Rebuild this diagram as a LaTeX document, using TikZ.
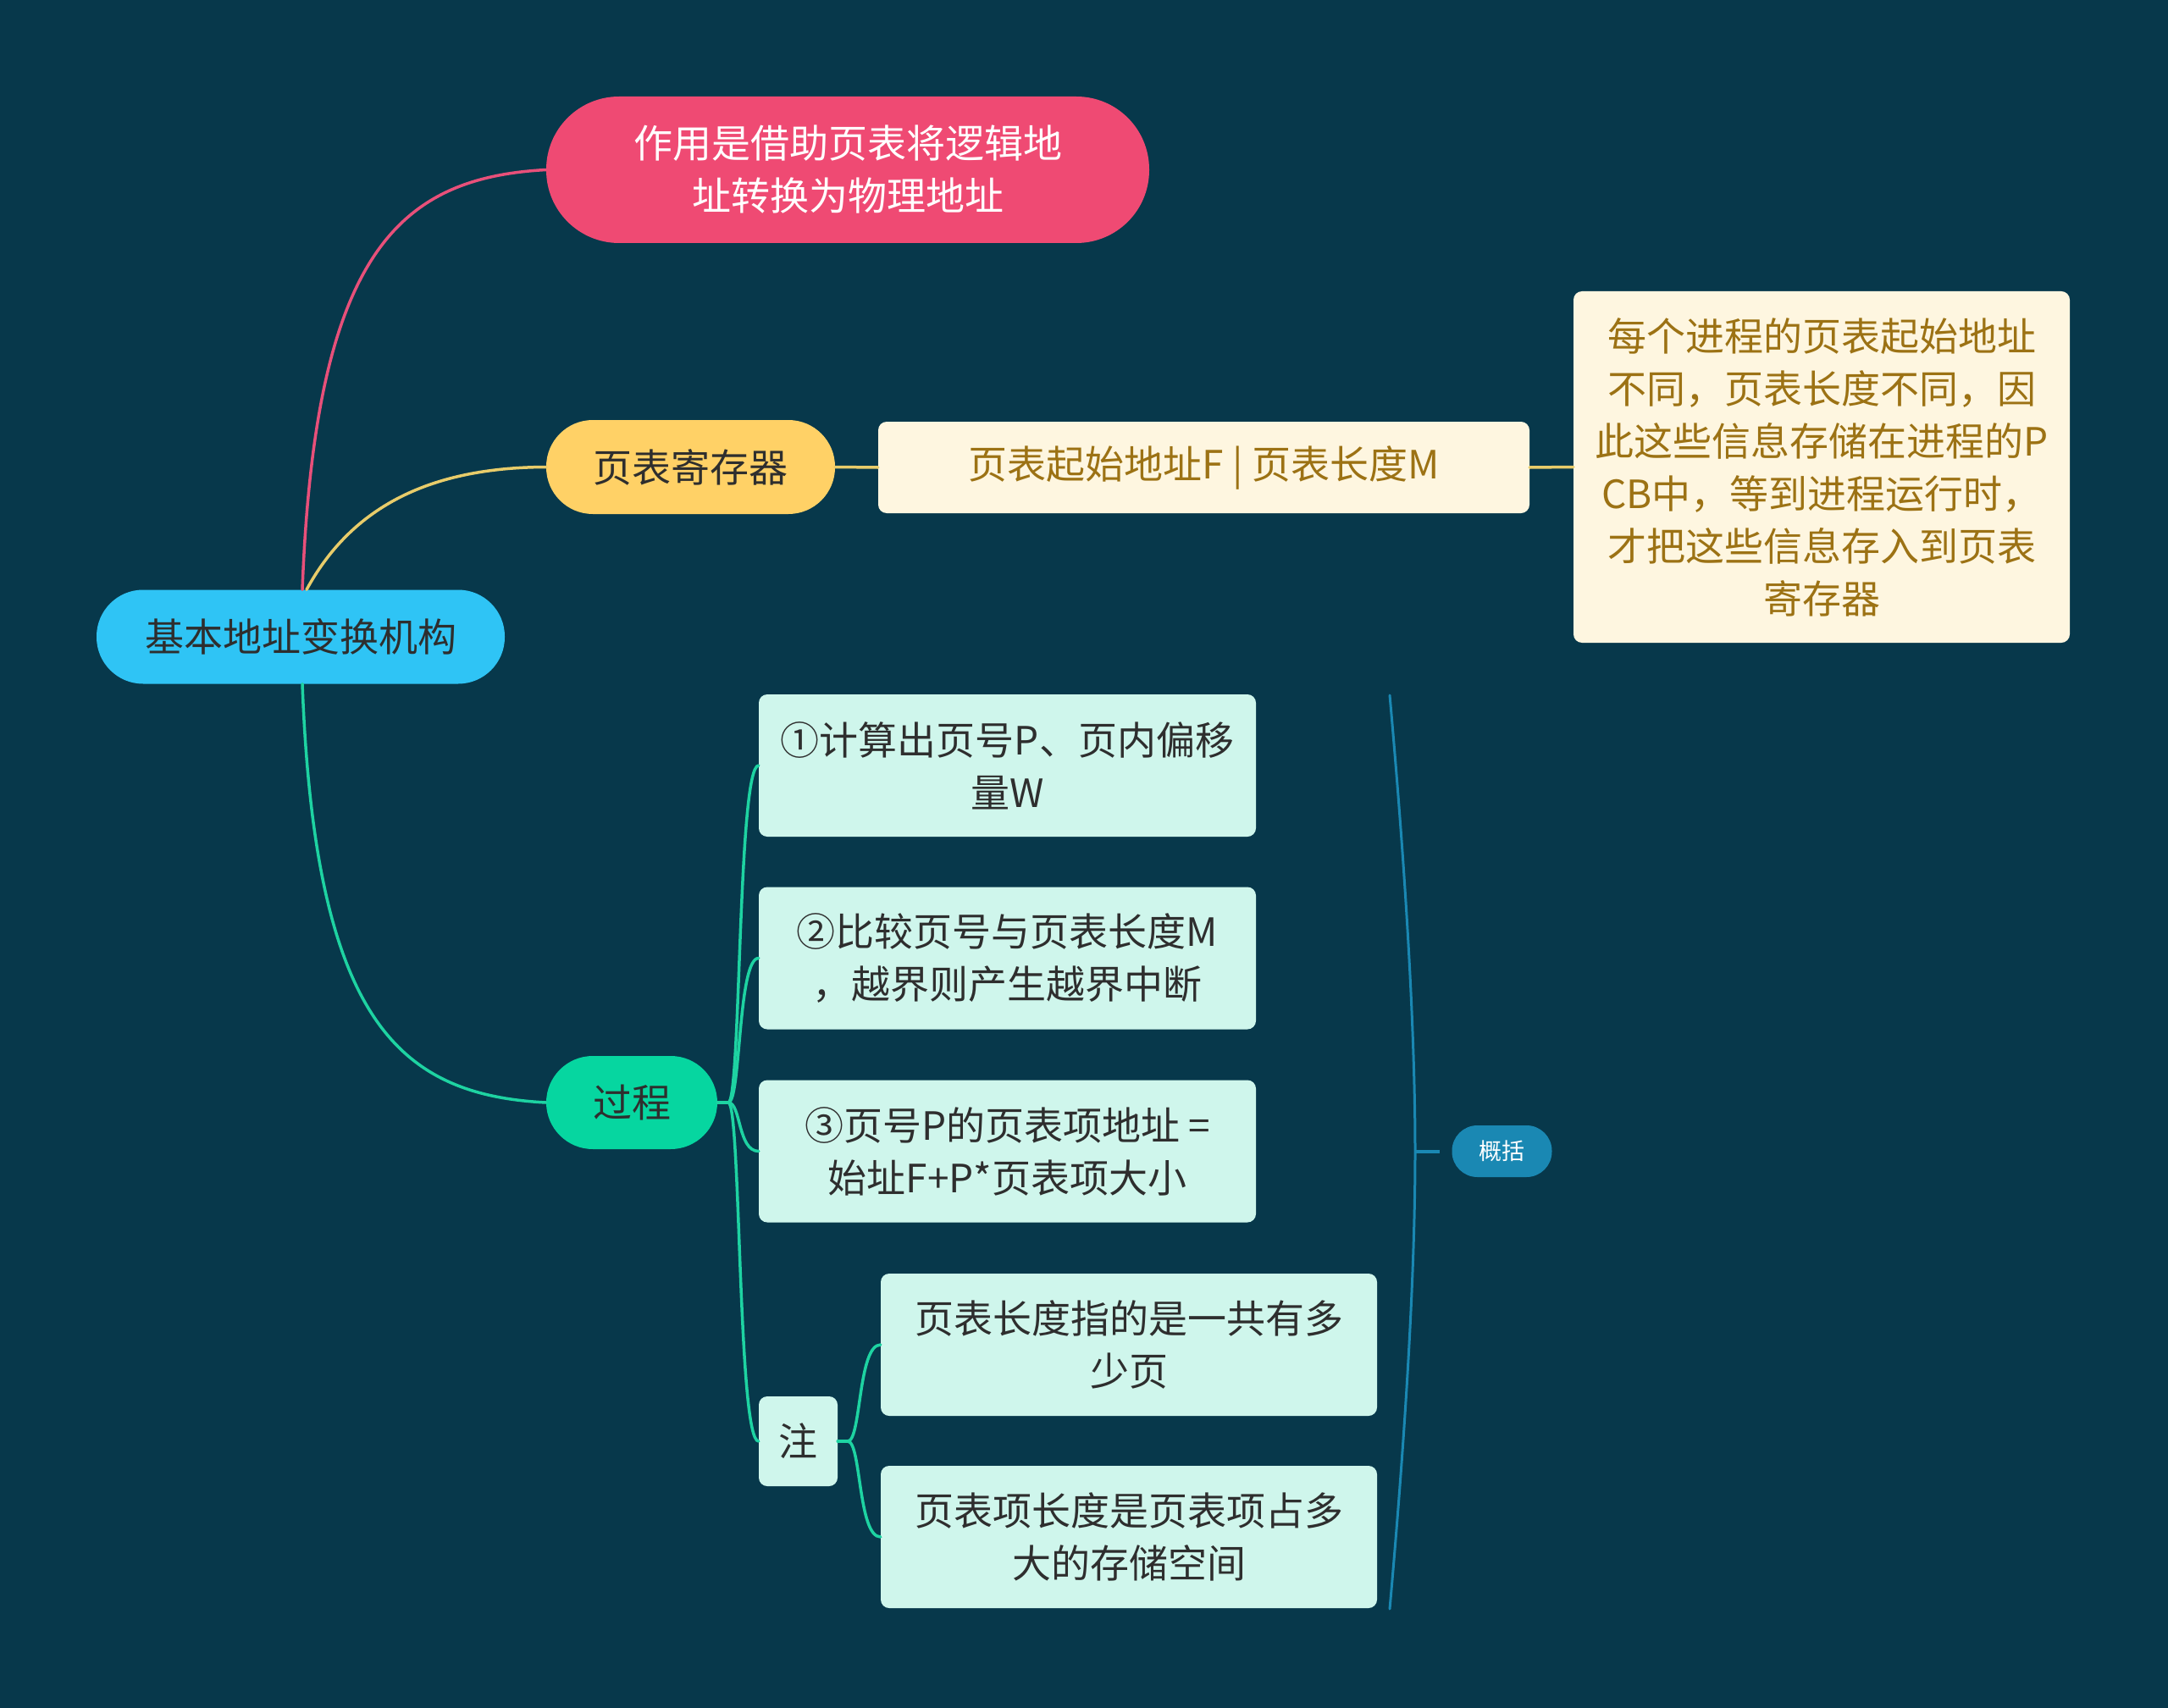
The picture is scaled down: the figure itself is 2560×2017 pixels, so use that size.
\documentclass[tikz,border=0pt]{standalone}
\usepackage{fontspec}
\setmainfont{Noto Sans CJK SC}
\definecolor{bg}{HTML}{07384B}
\definecolor{cRoot}{HTML}{2FC4F5}
\definecolor{cPink}{HTML}{EF4A73}
\definecolor{cYel}{HTML}{FFD166}
\definecolor{cGreen}{HTML}{06D6A0}
\definecolor{cMint}{HTML}{CFF6EC}
\definecolor{cCream}{HTML}{FEF6E0}
\definecolor{cGold}{HTML}{9C7214}
\definecolor{cBlue}{HTML}{1A88B3}
\definecolor{cDark}{HTML}{2E2E2E}
\definecolor{lPink}{HTML}{E8507A}
\definecolor{lYel}{HTML}{E8CC6A}
\definecolor{lGreen}{HTML}{1ED3A2}
\begin{document}
\begin{tikzpicture}[x=1pt,y=-1pt,
  base/.style={inner sep=0pt, align=center, font=\fontsize{46}{62}\selectfont, text=cDark},
  pill/.style={base, rounded corners=#1},
  card/.style={base, rounded corners=10pt},
  conn/.style={line width=3.5pt, line cap=round}
]
\fill[bg] (0,0) rectangle (2560,2017);
\useasboundingbox (0,0) rectangle (2560,2017);

% nodes
\node[pill=55pt, fill=cRoot, minimum width=482pt, minimum height=111pt] (root) at (355,752) {基本地址变换机构};
\node[pill=86pt, fill=cPink, text=white, minimum width=712pt, minimum height=173pt] (n1) at (1001,200.5) {作用是借助页表将逻辑地\\址转换为物理地址};
\node[pill=55pt, fill=cYel, minimum width=341pt, minimum height=111pt] (n2) at (815.5,551.5) {页表寄存器};
\node[card, fill=cCream, text=cGold, minimum width=769pt, minimum height=108pt] (n3) at (1421.5,552) {页表起始地址F | 页表长度M};
\node[card, fill=cCream, text=cGold, minimum width=586pt, minimum height=415pt] (n4) at (2151,551.5) {每个进程的页表起始地址\\不同，页表长度不同，因\\此这些信息存储在进程的P\\CB中，等到进程运行时，\\才把这些信息存入到页表\\寄存器};
\node[pill=55pt, fill=cGreen, minimum width=202pt, minimum height=110pt] (proc) at (746,1302) {过程};
\node[card, fill=cMint, minimum width=587pt, minimum height=168pt] (s1) at (1189.5,904) {①计算出页号P、页内偏移\\量W};
\node[card, fill=cMint, minimum width=587pt, minimum height=168pt] (s2) at (1189.5,1131.5) {②比较页号与页表长度M\\，越界则产生越界中断};
\node[card, fill=cMint, minimum width=587pt, minimum height=168pt] (s3) at (1189.5,1359.5) {③页号P的页表项地址 =\\始址F+P*页表项大小};
\node[card, fill=cMint, minimum width=93pt, minimum height=106pt] (zhu) at (942.5,1702) {注};
\node[card, fill=cMint, minimum width=586pt, minimum height=168pt] (t1) at (1333,1588) {页表长度指的是一共有多\\少页};
\node[card, fill=cMint, minimum width=586pt, minimum height=168pt] (t2) at (1333,1815) {页表项长度是页表项占多\\大的存储空间};
\node[pill=30pt, fill=cBlue, text=white, font=\fontsize{27}{32}\selectfont, minimum width=118pt, minimum height=61pt] (sum) at (1773.5,1359.5) {概括};

% root connectors
\draw[conn, lPink] ([xshift=2pt]root.north) .. controls (372,300) and (470,210) .. (n1.west);
\draw[conn, lYel] ([xshift=7pt]root.north) .. controls (420,590) and (520,552) .. (n2.west);
\draw[conn, lGreen] ([xshift=2pt]root.south) .. controls (372,1204) and (470,1293) .. (proc.west);
\draw[conn, lYel] (n2.east) -- (n3.west);
\draw[conn, lYel] (n3.east) -- (n4.west);

% process connectors
\coordinate (pj) at (860,1302);
\coordinate (pc) at (871,0);
\draw[conn, lGreen] (proc.east) -- (pj);
\foreach \t in {s1,s2,s3,zhu}{
  \draw[conn, lGreen] (pj) .. controls (875,1302) and (pc |- \t.west) .. (\t.west);
}
\coordinate (zj) at (1001,1702);
\coordinate (zc) at (1013,0);
\draw[conn, lGreen] (zhu.east) -- (zj);
\foreach \t in {t1,t2}{
  \draw[conn, lGreen] (zj) .. controls (1017,1702) and (zc |- \t.west) .. (\t.west);
}

% summary bracket
\coordinate (btop) at (1641,821);
\coordinate (bmid) at (1671,1360);
\coordinate (bbot) at (1641,1900);
\coordinate (btick) at (1700,1360);
\draw[line width=3pt, cBlue, line cap=round] (btop) .. controls (1657,1000) and (1671,1200) .. (bmid) .. controls (1671,1520) and (1657,1720) .. (bbot);
\draw[line width=3.5pt, cBlue] (bmid) -- (btick);
\end{tikzpicture}
\end{document}
